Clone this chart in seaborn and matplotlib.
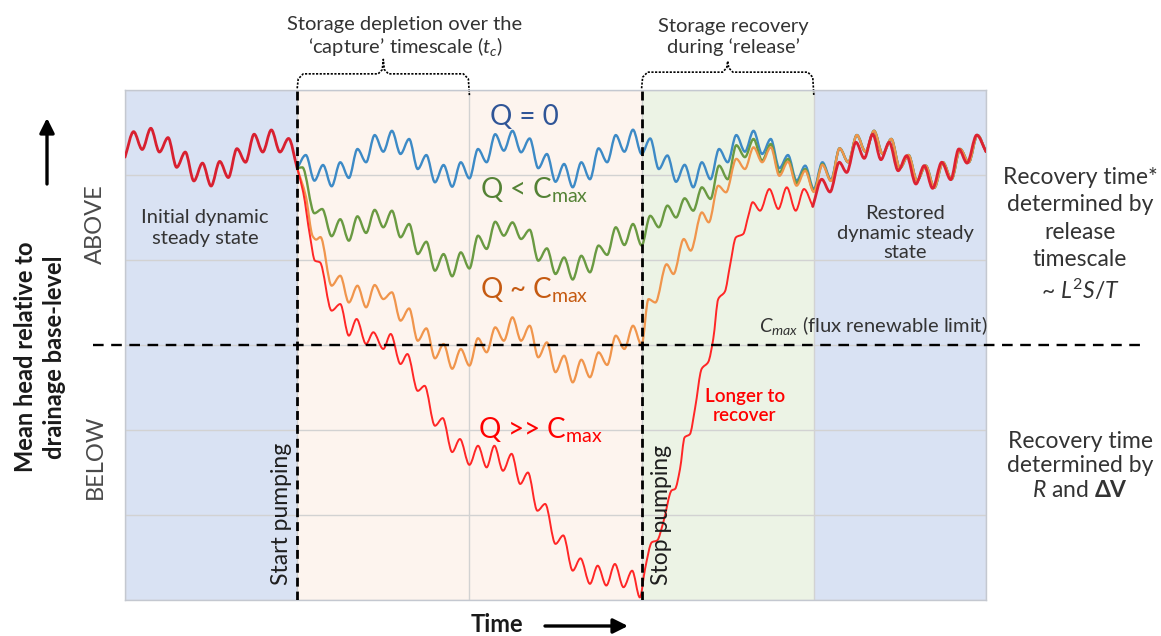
#!/usr/bin/env python3
"""Conceptual sketch: groundwater head under pumping, capture and release."""

import matplotlib
matplotlib.use('Agg')
import matplotlib.pyplot as plt
from matplotlib.path import Path
from matplotlib.patches import PathPatch
import pandas as pd
import seaborn as sns

# ---- phases (time units, one grid column = 10) ----
T0, PUMP_START, PUMP_STOP, RELEASE_END, T1 = 0, 10, 30, 40, 50

# ---- head series (head units, base-level = 0, one grid row = 10) ----
# initial dynamic steady state, before pumping
init_x = [0, 0.5, 1, 1.5, 2, 2.5, 3, 3.5, 4, 4.5, 5, 5.5, 6, 6.5, 7, 7.5, 8, 8.5, 9, 9.5, 10]
init_y = [22.1, 25.1, 23.0, 25.5, 22.7, 24.4, 20.9, 22.7, 19.3, 21.4, 18.7, 21.6, 19.7, 23.1,
          21.5, 24.8, 22.7, 25.3, 22.7, 24.3, 20.8]

# Q = 0
blue_x = [10, 10.5, 11, 11.5, 12, 12.5, 13, 13.5, 14, 14.5, 15, 15.5, 16, 16.5, 17, 17.5,
          18, 18.5, 19, 19.5, 20, 20.5, 21, 21.5, 22, 22.5, 23, 23.5, 24, 24.5, 25, 25.5,
          26, 26.5, 27, 27.5, 28, 28.5, 29, 29.5, 30, 30.5, 31, 31.5, 32, 32.5, 33, 33.5,
          34, 34.5, 35, 35.5, 36, 36.5, 37, 37.5, 38, 38.5, 39, 39.5, 40, 40.5, 41, 41.5,
          42, 42.5, 43, 43.5, 44, 44.5, 45, 45.5, 46, 46.5, 47, 47.5, 48, 48.5, 49, 49.5, 50]
blue_y = [20.8, 22.35, 19.33, 21.18, 18.67, 21.5, 19.65, 23.06, 21.5, 24.7, 22.74, 25.2,
          22.47, 24.24, 20.7, 22.35, 19.14, 21.18, 18.62, 21.5, 19.6, 23.06, 21.5, 24.8,
          22.86, 25.2, 22.67, 24.3, 20.8, 22.47, 19.2, 21.3, 18.55, 21.5, 19.5, 23.14,
          21.5, 24.7, 22.74, 25.33, 22.47, 24.3, 20.7, 22.3, 19.2, 21.2, 18.55, 21.5,
          19.5, 23.06, 21.5, 24.7, 22.74, 25.2, 22.47, 24.24, 20.8, 22.35, 19.33, 21.1,
          18.35, 21.5, 19.45, 23.14, 21.5, 24.7, 22.74, 25.2, 22.47, 24.24, 20.8, 22.35,
          19.33, 21.1, 18.5, 21.5, 19.5, 23.06, 21.5, 24.7, 22.74]

# Q < Cmax
green_x = [10, 10.3, 11, 11.45, 12, 12.5, 13, 13.5, 14, 14.5, 15, 15.5, 16, 16.5, 17, 17.5,
           18, 18.5, 19, 19.5, 20, 20.5, 21, 21.5, 22, 22.5, 23, 23.5, 24, 24.5, 25, 25.5,
           26, 26.5, 27, 27.5, 28, 28.5, 29, 29.5, 30, 30.5, 31, 31.5, 32, 32.5, 33, 33.5,
           34, 34.5, 35, 35.5, 36, 36.5, 37, 37.5, 38, 38.5, 39, 39.5, 40, 40.5, 41, 41.5,
           42, 42.5, 43, 43.5, 44, 44.5, 45, 45.5, 46, 46.5, 47, 47.5, 48, 48.5, 49, 49.5, 50]
green_y = [20.8, 20.9, 15.5, 16.0, 12.8, 14.8, 12.27, 15.14, 13.18, 15.9, 13.85, 15.8,
           12.67, 14.24, 10.7, 12.15, 8.74, 10.7, 8.08, 10.9, 9.0, 12.86, 11.3, 14.5,
           12.86, 14.43, 12.47, 13.56, 9.92, 11.37, 8.35, 10.3, 7.7, 10.5, 8.55, 11.7,
           10.6, 13.85, 11.76, 14.24, 11.7, 15.2, 13.85, 16.4, 15.0, 17.26, 15.8, 18.55,
           17.18, 21.1, 19.5, 23.5, 22.1, 24.24, 21.7, 23.65, 20.3, 21.9, 19.06, 20.7,
           18.15, 21.3, 19.3, 23.14, 21.5, 24.7, 22.74, 25.2, 22.47, 24.24, 20.8, 22.35,
           19.33, 21.1, 18.5, 21.5, 19.5, 23.06, 21.5, 24.7, 22.74]

# Q ~ Cmax
orange_x = [10, 10.5, 10.9, 11.1, 11.35, 12, 12.5, 13, 13.5, 14, 14.5, 15, 15.5, 16, 16.5,
            17, 17.5, 18, 18.5, 19, 19.5, 20, 20.5, 21, 21.5, 22, 22.5, 23, 23.5, 24, 24.5,
            25, 25.5, 26, 26.5, 27, 27.5, 28, 28.5, 29, 29.5, 30, 30.4, 30.8, 31.45, 31.85,
            32.45, 32.85, 33.5, 33.9, 34.45, 34.9, 35.5, 36, 36.5, 37, 37.5, 38, 38.5, 39,
            39.5, 40, 40.5, 41, 41.5, 42, 42.5, 43, 43.5, 44, 44.5, 45, 45.5, 46, 46.5, 47,
            47.5, 48, 48.5, 49, 49.5, 50]
orange_y = [20.8, 17.5, 12.8, 12.4, 12.7, 6.98, 8.15, 5.0, 6.98, 4.43, 7.06, 5.4, 6.2, 2.86,
            4.3, 0.5, 1.96, -1.57, 0.12, -2.8, -0.47, -2.43, 0.8, -0.86, 2.08, 0.5, 3.26,
            0.5, 2.27, -1.45, 0.31, -3.2, -1.26, -4.4, -1.73, -3.8, -0.86, -2.35, 1.1, -0.47,
            2.27, 0.0, 5.4, 5.0, 9.5, 8.35, 12.47, 11.1, 15.6, 14.43, 18.74, 17.96, 21.9,
            20.7, 23.26, 21.5, 23.26, 19.9, 21.56, 18.74, 20.5, 18.0, 21.2, 19.3, 23.14,
            21.5, 24.7, 22.74, 25.2, 22.47, 24.24, 20.8, 22.35, 19.33, 21.1, 18.5, 21.5,
            19.5, 23.06, 21.5, 24.7, 22.74]

# Q >> Cmax (pumping and release)
red_x = [10, 10.35, 10.74, 11.03, 11.32, 12, 12.5, 13, 13.45, 14, 14.42, 15, 15.43, 16,
         16.4, 17, 17.4, 18, 18.45, 19, 19.45, 20, 20.5, 21, 21.45, 21.95, 22.45, 22.95,
         23.4, 23.95, 24.4, 25, 25.45, 26, 26.45, 27, 27.45, 27.95, 28.45, 28.95, 29.45,
         29.9, 30.2, 30.6, 30.9, 31.26, 31.75, 31.94, 32.23, 32.5, 32.8, 33.1, 33.49,
         33.87, 34.16, 34.45, 34.84, 35.13, 35.48, 35.9, 36.2, 36.45, 36.88, 37.42, 37.94,
         38.43, 38.95, 39.43, 39.94]
red_y = [20.8, 17.96, 12.86, 9.92, 9.73, 4.04, 4.82, 1.1, 3.06, 0.12, 1.5, -0.47, 1.3, -2.24,
         -1.06, -5.4, -4.8, -9.5, -8.6, -12.6, -11.06, -14.1, -11.85, -14.4, -11.85, -14.8,
         -12.8, -16.35, -15.0, -19.5, -18.7, -23.4, -22.4, -26.55, -25.1, -28.1, -25.96,
         -28.3, -25.76, -28.5, -26.55, -29.7, -26.35, -23.2, -23.0, -20.86, -17.1, -16.94,
         -14.6, -10.86, -10.5, -7.5, -2.8, -2.0, 0.7, 5.4, 6.3, 9.3, 12.67, 13.06, 15.2,
         16.8, 15.8, 18.35, 16.0, 18.55, 15.8, 18.35, 16.3]

# restored dynamic steady state (red on top)
rest_x = [39.94, 40.46, 40.94, 41.48, 41.91, 42.45, 42.93, 43.42, 43.9, 44.38, 44.9, 45.39,
          45.93, 46.41, 46.9, 47.43, 47.95, 48.42, 48.9, 49.46, 50]
rest_y = [16.3, 19.5, 18.0, 21.5, 20.3, 23.85, 21.96, 24.8, 21.8, 23.85, 20.5, 22.27, 18.94,
          21.1, 18.43, 21.5, 19.45, 23.06, 21.4, 24.7, 22.74]

W, H = 1161, 636
TXT = '#333333'


def fig_text(fig, px, py, s, **kw):
    """Place text using pixel coordinates of the target picture."""
    return fig.text(px / W, 1 - py / H, s, **kw)


def rounded(line):
    """Swap a straight-segment line for a smooth curve through the same points
    (monotone cubic Hermite drawn as Bezier segments, flat at turning points)."""
    xy = line.get_xydata()
    xs, ys = xy[:, 0], xy[:, 1]
    n = len(xs)
    d = [(ys[i + 1] - ys[i]) / (xs[i + 1] - xs[i]) for i in range(n - 1)]
    h = [xs[i + 1] - xs[i] for i in range(n - 1)]
    m = [d[0]]
    for i in range(1, n - 1):
        if d[i - 1] * d[i] <= 0:
            m.append(0.0)
        else:
            w1 = 2 * h[i] + h[i - 1]
            w2 = h[i] + 2 * h[i - 1]
            m.append((w1 + w2) / (w1 / d[i - 1] + w2 / d[i]))
    m.append(d[-1])
    verts = [(xs[0], ys[0])]
    codes = [Path.MOVETO]
    for i in range(n - 1):
        k = h[i] / 3
        verts += [(xs[i] + k, ys[i] + m[i] * k), (xs[i + 1] - k, ys[i + 1] - m[i + 1] * k),
                  (xs[i + 1], ys[i + 1])]
        codes += [Path.CURVE4] * 3
    patch = PathPatch(Path(verts, codes), fill=False, edgecolor=line.get_color(),
                      lw=line.get_linewidth(), capstyle='round', joinstyle='round',
                      zorder=line.get_zorder())
    line.axes.add_patch(patch)
    line.remove()


def bracket(ax, x0, x1, bar, tip):
    """Dotted curly bracket above the axes spanning x0..x1."""
    xm = (x0 + x1) / 2
    bx = [x0, x0 + 0.06, x0 + 0.35, xm - 0.3, xm - 0.06, xm, xm + 0.06, xm + 0.3,
          x1 - 0.35, x1 - 0.06, x1]
    by = [30.2, bar - 0.6, bar, bar, bar + 0.5, tip, bar + 0.5, bar, bar, bar - 0.6, 29.4]
    ax.plot(bx, by, color='black', lw=1.2, ls=(0, (1.3, 0.9)), clip_on=False)


def main():
    sns.set_theme(style='white')
    plt.rcParams['font.family'] = ['Lato', 'DejaVu Sans']
    plt.rcParams['mathtext.fontset'] = 'custom'
    plt.rcParams['mathtext.rm'] = 'Lato'
    plt.rcParams['mathtext.it'] = 'Lato:italic'
    plt.rcParams['mathtext.bf'] = 'Lato:bold'

    fig = plt.figure(figsize=(W / 100, H / 100), dpi=100)
    ax = fig.add_axes([125 / W, 36 / H, 861 / W, 510 / H])

    # phase backgrounds
    ax.axvspan(T0, PUMP_START, color='#d9e2f3', zorder=0, lw=0)
    ax.axvspan(PUMP_START, PUMP_STOP, color='#fdf4ee', zorder=0, lw=0)
    ax.axvspan(PUMP_STOP, RELEASE_END, color='#ecf3e5', zorder=0, lw=0)
    ax.axvspan(RELEASE_END, T1, color='#d9e2f3', zorder=0, lw=0)

    series = [
        (blue_x, blue_y, '#3d8ac6', 1.7),
        (green_x, green_y, '#6a9a42', 1.7),
        (orange_x, orange_y, '#f0954c', 1.6),
        (red_x, red_y, '#ff2626', 1.4),
        (rest_x, rest_y, '#dc2232', 2.0),
        (init_x, init_y, '#d82030', 2.0),
    ]
    for xs, ys, col, lw in series:
        df = pd.DataFrame({'time': xs, 'head': ys})
        sns.lineplot(data=df, x='time', y='head', color=col, lw=lw, ax=ax,
                     estimator=None, sort=False, zorder=3)
    for line in list(ax.lines):
        rounded(line)

    ax.set_xlim(T0, T1)
    ax.set_ylim(-30, 30)
    ax.set_xticks(range(T0, T1 + 1, 10))
    ax.set_yticks(range(-30, 31, 10))
    ax.set_xticklabels([])
    ax.set_yticklabels([])
    ax.tick_params(length=0)
    ax.grid(True, color='#d2d2d2', lw=1.0)
    ax.set_axisbelow(True)
    for sp in ax.spines.values():
        sp.set_color('#c4c8d0')
        sp.set_linewidth(1.0)
    ax.set_xlabel('')
    ax.set_ylabel('')

    # flux renewable limit and pumping on/off markers
    ax.axhline(0, xmin=-0.037, xmax=1.185, color='black', lw=1.7,
               ls=(0, (4.5, 3.2)), clip_on=False, zorder=4)
    for xv in (PUMP_START, PUMP_STOP):
        ax.axvline(xv, color='black', lw=2.0, ls=(0, (3.2, 1.8)), zorder=4)

    bracket(ax, PUMP_START, 20, 31.9, 33.6)
    bracket(ax, PUMP_STOP, RELEASE_END, 32.1, 33.4)

    # annotations in the plot
    fig_text(fig, 405, 37, 'Storage depletion over the\n\u2018capture\u2019 timescale ($t_c$)',
             ha='center', va='center', fontsize=14.5, color=TXT, linespacing=1.15)
    fig_text(fig, 733, 37, 'Storage recovery\nduring \u2018release\u2019',
             ha='center', va='center', fontsize=14.5, color=TXT, linespacing=1.15)
    fig_text(fig, 524, 117, 'Q = 0', ha='center', va='center', fontsize=20,
             color='#2f5597')
    fig_text(fig, 534, 190, 'Q < C$_{\\mathrm{max}}$', ha='center', va='center',
             fontsize=20, color='#548235')
    fig_text(fig, 534, 290, 'Q ~ C$_{\\mathrm{max}}$', ha='center', va='center',
             fontsize=20, color='#c55a11')
    fig_text(fig, 540, 430, 'Q >> C$_{\\mathrm{max}}$', ha='center', va='center',
             fontsize=20, color='#ff0000')
    fig_text(fig, 205, 228, 'Initial dynamic\nsteady state', ha='center', va='center',
             fontsize=14.5, color=TXT, linespacing=1.25)
    fig_text(fig, 905, 233, 'Restored\ndynamic steady\nstate', ha='center', va='center',
             fontsize=14.5, color=TXT, linespacing=1.2)
    fig_text(fig, 745, 406, 'Longer to\nrecover', ha='center', va='center',
             fontsize=13.5, color='#ff0000', fontweight='semibold', linespacing=1.15)
    fig_text(fig, 988, 337, '$C_{max}$ (flux renewable limit)', ha='right', va='bottom',
             fontsize=14.5, color=TXT)
    fig_text(fig, 282, 585, 'Start pumping', ha='center', va='bottom', rotation=90,
             fontsize=16.5, color='#1e1e1e')
    fig_text(fig, 662, 585, 'Stop pumping', ha='center', va='bottom', rotation=90,
             fontsize=16.5, color='#1e1e1e')

    # axis wording
    fig_text(fig, 95, 224, 'ABOVE', ha='center', va='center', rotation=90,
             fontsize=17, color='#4a4a4a')
    fig_text(fig, 95, 457, 'BELOW', ha='center', va='center', rotation=90,
             fontsize=17, color='#4a4a4a')
    fig_text(fig, 40, 357, 'Mean head relative to\ndrainage base-level', ha='center',
             va='center', rotation=90, fontsize=17, fontweight='bold', color='#1a1a1a',
             linespacing=1.3)
    fig_text(fig, 497, 625, 'Time', ha='center', va='center', fontsize=17,
             fontweight='bold', color='#1a1a1a')
    ax.annotate('', xy=(47, H - 118), xytext=(47, H - 184), xycoords='figure pixels',
                textcoords='figure pixels',
                arrowprops=dict(arrowstyle='-|>', lw=2.4, color='black',
                                mutation_scale=22, shrinkA=0, shrinkB=0))
    ax.annotate('', xy=(628, H - 626), xytext=(545, H - 626), xycoords='figure pixels',
                textcoords='figure pixels',
                arrowprops=dict(arrowstyle='-|>', lw=2.4, color='black',
                                mutation_scale=22, shrinkA=0, shrinkB=0))

    # recovery notes on the right
    fig_text(fig, 1080, 235, 'Recovery time*\ndetermined by\nrelease\ntimescale\n~ $L^2S/T$',
             ha='center', va='center', fontsize=16.5, color=TXT, linespacing=1.38)
    fig_text(fig, 1080, 466, 'Recovery time\ndetermined by\n$R$ and $\\mathbf{\\Delta V}$',
             ha='center', va='center', fontsize=16.5, color=TXT, linespacing=1.22)

    fig.savefig('out.png', dpi=100)
    plt.close(fig)


if __name__ == '__main__':
    main()
